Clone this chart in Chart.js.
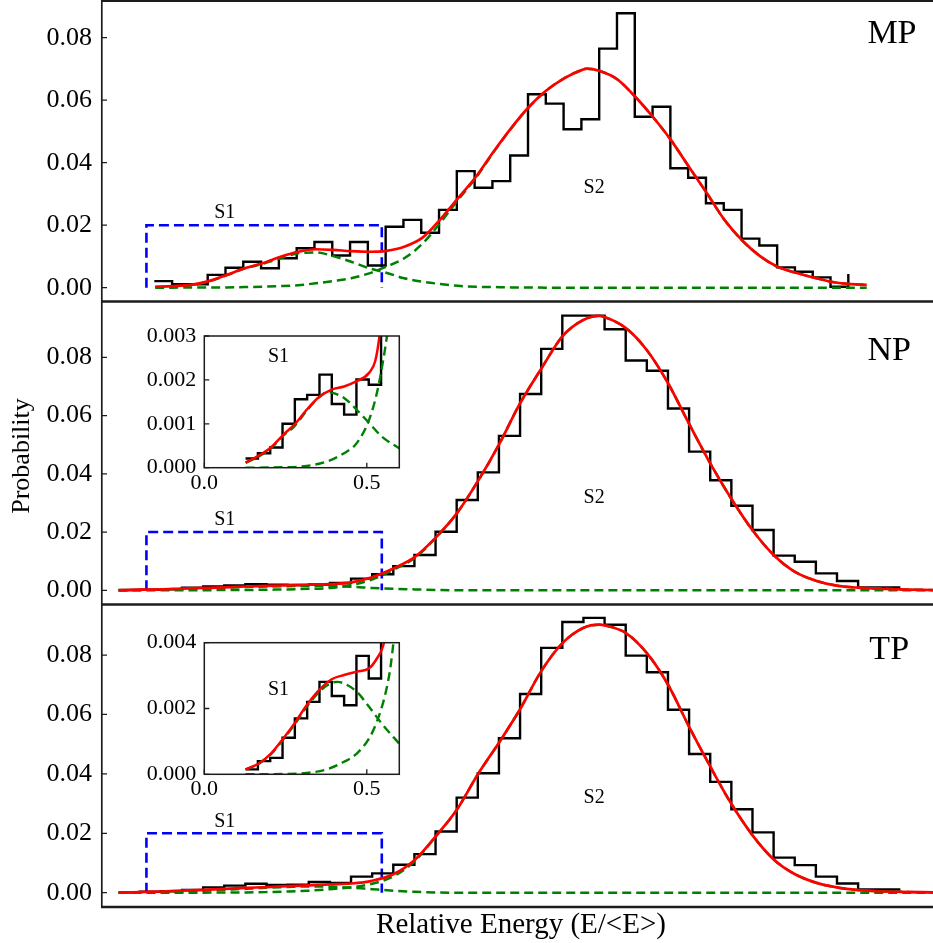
<!DOCTYPE html>
<html>
<head>
<meta charset="utf-8">
<title>Relative energy distributions</title>
<script src="https://cdn.jsdelivr.net/npm/chart.js@4.4.1/dist/chart.umd.min.js"></script>
<style>
  body { margin: 0; background: #fff; }
  #fig { position: relative; width: 933px; height: 943px; overflow: hidden; }
  #fig canvas { position: absolute; left: 0; top: 0; }
</style>
</head>
<body>
<div id="fig">
  <canvas id="mp" width="933" height="943"></canvas>
  <canvas id="np" width="933" height="943"></canvas>
  <canvas id="tp" width="933" height="943"></canvas>
  <canvas id="npInset" width="933" height="943"></canvas>
  <canvas id="tpInset" width="933" height="943"></canvas>
</div>
<script>
// ---------- data ----------
const yTicks = [0, 0.02, 0.04, 0.06, 0.08];
const npInsetYTicks = [0, 0.001, 0.002, 0.003];
const tpInsetYTicks = [0, 0.002, 0.004];
const insetXTicks = [0, 0.5];

// S1 window drawn as the blue dashed box
const s1Box = [0.123, 0.553];
const s1BoxTop = 0.02;

// MP histogram (step), bins start / width, heights
const mpBinStart = 0.1374, mpBinWidth = 0.03251;
const mpHist = [0.0021, 0.0011, 0.0011, 0.0041, 0.0064, 0.0083, 0.0062, 0.0094, 0.0126, 0.0146,
  0.0103, 0.0146, 0.0071, 0.0195, 0.0217, 0.0176, 0.0249, 0.0373, 0.0320, 0.0341,
  0.0423, 0.0619, 0.0589, 0.0507, 0.0539, 0.0765, 0.0878, 0.0547, 0.0579, 0.0382,
  0.0352, 0.0270, 0.0249, 0.0157, 0.0135, 0.0065, 0.0051, 0.0033, 0.0003];
const mpHistLast = 0.0044;

// MP fitted curves
const mpCurveX = [0.139, 0.171, 0.204, 0.237, 0.270, 0.302, 0.335, 0.368, 0.400, 0.433,
  0.464, 0.497, 0.530, 0.561, 0.594, 0.628, 0.659, 0.692, 0.725, 0.757,
  0.789, 0.822, 0.853, 0.886, 0.919, 0.928, 0.950, 0.983, 1.016, 1.048,
  1.081, 1.114, 1.147, 1.179, 1.212, 1.244, 1.276, 1.309, 1.341, 1.374, 1.405, 1.439];
const mpFit = [0.0003, 0.0005, 0.0009, 0.0021, 0.0041, 0.0062, 0.0078, 0.0099, 0.0115, 0.0123,
  0.0121, 0.0117, 0.0115, 0.0118, 0.0131, 0.0161, 0.0217, 0.0286, 0.0355, 0.0435,
  0.0510, 0.0579, 0.0630, 0.0670, 0.0697, 0.0701, 0.0694, 0.0667, 0.0611, 0.0547,
  0.0473, 0.0387, 0.0302, 0.0217, 0.0150, 0.0101, 0.0067, 0.0048, 0.0033, 0.0019, 0.0012, 0.0009];
const mpS1 = [0.0002, 0.0004, 0.0008, 0.0020, 0.0040, 0.0061, 0.0076, 0.0094, 0.0110, 0.0113,
  0.0101, 0.0083, 0.0062, 0.0048, 0.0030, 0.0019, 0.0012, 0.0006, 0.0003, 0.0002,
  0.0001, 0.0001, 0, 0, 0, 0, 0, 0, 0, 0,
  0, 0, 0, 0, 0, 0, 0, 0, 0, 0, 0, 0];
const mpS2 = [0, 0, 0.0001, 0.0001, 0.0001, 0.0002, 0.0003, 0.0005, 0.0008, 0.0014,
  0.0021, 0.0030, 0.0046, 0.0067, 0.0094, 0.0142, 0.0206, 0.0280, 0.0352, 0.0433,
  0.0509, 0.0578, 0.0630, 0.0670, 0.0697, 0.0701, 0.0694, 0.0667, 0.0611, 0.0547,
  0.0473, 0.0387, 0.0302, 0.0217, 0.0150, 0.0101, 0.0067, 0.0048, 0.0033, 0.0019, 0.0012, 0.0009];

// NP / TP histograms share the binning
const npTpBinStart = 0.0722, npTpBinWidth = 0.0386;
const npHist = [0.0001, 0.0002, 0.0003, 0.0009, 0.0013, 0.0017, 0.0021, 0.0019, 0.0018, 0.0020,
  0.0025, 0.0040, 0.0055, 0.0083, 0.0121, 0.0201, 0.0310, 0.0405, 0.0530, 0.0674,
  0.0829, 0.0943, 0.0943, 0.0896, 0.0789, 0.0754, 0.0624, 0.0476, 0.0378, 0.0290,
  0.0207, 0.0119, 0.0098, 0.0058, 0.0032, 0.0010, 0.0010];
const tpHist = [0.0001, 0.0003, 0.0005, 0.0009, 0.0018, 0.0024, 0.0030, 0.0026, 0.0027, 0.0036,
  0.0033, 0.0054, 0.0065, 0.0094, 0.0130, 0.0206, 0.0320, 0.0402, 0.0520, 0.0669,
  0.0824, 0.0911, 0.0925, 0.0902, 0.0798, 0.0742, 0.0616, 0.0467, 0.0373, 0.0281,
  0.0203, 0.0118, 0.0093, 0.0054, 0.0031, 0.0011, 0.0011];

const npTpCurveX = [0.072, 0.111, 0.149, 0.188, 0.227, 0.265, 0.304, 0.342, 0.381, 0.420,
  0.458, 0.497, 0.535, 0.574, 0.613, 0.651, 0.690, 0.728, 0.767, 0.805,
  0.844, 0.883, 0.921, 0.950, 0.960, 0.999, 1.037, 1.076, 1.114, 1.153,
  1.191, 1.230, 1.269, 1.307, 1.346, 1.384, 1.423, 1.462, 1.500, 1.560];
const npFit = [0.0000, 0.0002, 0.0003, 0.0006, 0.0008, 0.0010, 0.0013, 0.0015, 0.0017, 0.0019,
  0.0021, 0.0027, 0.0045, 0.0075, 0.0114, 0.0180, 0.0264, 0.0373, 0.0500, 0.0640,
  0.0760, 0.0872, 0.0928, 0.0942, 0.0938, 0.0900, 0.0825, 0.0711, 0.0573, 0.0436,
  0.0316, 0.0207, 0.0121, 0.0064, 0.0033, 0.0016, 0.0009, 0.0006, 0.0003, 0.0001];
const npS1 = [0, 0.0001, 0.0002, 0.0004, 0.0006, 0.0009, 0.0011, 0.0013, 0.0014, 0.0015,
  0.0014, 0.0012, 0.0008, 0.0005, 0.0003, 0.0001, 0, 0, 0, 0,
  0, 0, 0, 0, 0, 0, 0, 0, 0, 0,
  0, 0, 0, 0, 0, 0, 0, 0, 0, 0];
const npS2 = [0, 0, 0, 0, 0, 0.0001, 0.0001, 0.0002, 0.0003, 0.0005,
  0.0008, 0.0018, 0.0037, 0.0070, 0.0111, 0.0179, 0.0264, 0.0373, 0.0500, 0.0640,
  0.0760, 0.0872, 0.0928, 0.0942, 0.0938, 0.0900, 0.0825, 0.0711, 0.0573, 0.0436,
  0.0316, 0.0207, 0.0121, 0.0064, 0.0033, 0.0016, 0.0009, 0.0006, 0.0003, 0.0001];
const tpFit = [0.0000, 0.0002, 0.0004, 0.0007, 0.0010, 0.0013, 0.0016, 0.0019, 0.0022, 0.0025,
  0.0028, 0.0031, 0.0040, 0.0062, 0.0110, 0.0189, 0.0279, 0.0397, 0.0505, 0.0616,
  0.0745, 0.0840, 0.0891, 0.0902, 0.0900, 0.0874, 0.0807, 0.0700, 0.0560, 0.0425,
  0.0301, 0.0194, 0.0112, 0.0063, 0.0034, 0.0018, 0.0009, 0.0005, 0.0003, 0.0001];
const tpS1 = [0, 0.0001, 0.0002, 0.0004, 0.0007, 0.0010, 0.0013, 0.0017, 0.0019, 0.0021,
  0.0020, 0.0017, 0.0012, 0.0007, 0.0003, 0.0001, 0, 0, 0, 0,
  0, 0, 0, 0, 0, 0, 0, 0, 0, 0,
  0, 0, 0, 0, 0, 0, 0, 0, 0, 0];
const tpS2 = [0, 0, 0, 0, 0, 0.0001, 0.0001, 0.0002, 0.0004, 0.0007,
  0.0012, 0.0018, 0.0030, 0.0055, 0.0106, 0.0188, 0.0279, 0.0397, 0.0505, 0.0616,
  0.0745, 0.0840, 0.0891, 0.0902, 0.0900, 0.0874, 0.0807, 0.0700, 0.0560, 0.0425,
  0.0301, 0.0194, 0.0112, 0.0063, 0.0034, 0.0018, 0.0009, 0.0005, 0.0003, 0.0001];

// insets (S1 zoom)
const insetBinStart = 0.127, insetBinWidth = 0.0379;
const npInsetHist = [0.00021, 0.00033, 0.00046, 0.00100, 0.00156, 0.00166, 0.00212, 0.00145, 0.00121, 0.00201, 0.00189, 0.00550];
const tpInsetHist = [0.00015, 0.00040, 0.00050, 0.00111, 0.00170, 0.00220, 0.00281, 0.00238, 0.00210, 0.00360, 0.00291, 0.00650];

const npInsetFitX = [0.127, 0.166, 0.205, 0.243, 0.277, 0.315, 0.353, 0.392, 0.430, 0.469, 0.507, 0.526, 0.539, 0.550];
const npInsetFit = [0.00012, 0.00027, 0.00046, 0.00075, 0.00098, 0.00132, 0.00161, 0.00178, 0.00185, 0.00197, 0.00216, 0.00243, 0.00300, 0.00380];
const npInsetS1X = [0.127, 0.166, 0.205, 0.243, 0.277, 0.315, 0.353, 0.377, 0.392, 0.430, 0.469, 0.507, 0.546, 0.600];
const npInsetS1 = [0.00011, 0.00025, 0.00044, 0.00073, 0.00094, 0.00130, 0.00160, 0.00172, 0.00171, 0.00159, 0.00132, 0.00102, 0.00071, 0.00044];
const npInsetS2X = [0.127, 0.243, 0.315, 0.377, 0.430, 0.469, 0.507, 0.531, 0.551, 0.562, 0.572];
const npInsetS2 = [0.00000, 0.00001, 0.00004, 0.00014, 0.00033, 0.00056, 0.00109, 0.00170, 0.00247, 0.00300, 0.00360];

const tpInsetFitX = [0.127, 0.166, 0.205, 0.243, 0.277, 0.315, 0.353, 0.392, 0.430, 0.469, 0.507, 0.531, 0.551, 0.565];
const tpInsetFit = [0.00015, 0.00032, 0.00063, 0.00109, 0.00154, 0.00210, 0.00256, 0.00289, 0.00302, 0.00312, 0.00322, 0.00352, 0.00393, 0.00470];
const tpInsetS1X = [0.127, 0.166, 0.205, 0.243, 0.277, 0.315, 0.353, 0.392, 0.410, 0.430, 0.469, 0.507, 0.546, 0.600];
const tpInsetS1 = [0.00015, 0.00031, 0.00061, 0.00106, 0.00150, 0.00205, 0.00250, 0.00278, 0.00281, 0.00276, 0.00251, 0.00205, 0.00154, 0.00093];
const tpInsetS2X = [0.127, 0.243, 0.315, 0.377, 0.430, 0.469, 0.507, 0.531, 0.556, 0.572, 0.582, 0.592];
const tpInsetS2 = [0.00000, 0.00001, 0.00004, 0.00015, 0.00038, 0.00063, 0.00109, 0.00160, 0.00240, 0.00320, 0.00400, 0.00480];

// ---------- layout ----------
const mainX = [0.04, 1.56];
const mpBox = { top: 0.5, bottom: 301.5, yMin: -0.00442, yMax: 0.0919 };
const npBox = { top: 302.5, bottom: 604.5, yMin: -0.00488, yMax: 0.09881 };
const tpBox = { top: 605.5, bottom: 907, yMin: -0.00481, yMax: 0.09667 };
const npInsetBox = { left: 204.3, right: 399.3, top: 336, bottom: 467.7 };
const tpInsetBox = { left: 204.3, right: 399.3, top: 642.7, bottom: 774.3 };
const insetXAxisHeight = 30;

Chart.defaults.font.family = '"Liberation Serif", "Times New Roman", serif';
Chart.defaults.color = '#000';

const RED = '#ff0000', GREEN = '#008000', BLUE = '#0000ff', INK = '#1c1c1c';

const pts = (xs, ys) => xs.map((x, i) => ({ x: x, y: ys[i] }));

function steps(start, width, heights, last) {
  const out = heights.map((h, i) => ({ x: start + i * width, y: h }));
  out.push({ x: start + heights.length * width, y: last !== undefined ? last : heights[heights.length - 1] });
  return out;
}

function curve(data, color, dashed, width, order) {
  return {
    data: data, borderColor: color, borderWidth: width, borderDash: dashed ? [9, 5] : [],
    cubicInterpolationMode: 'monotone', pointRadius: 0, fill: false, order: order
  };
}

function histogram(data, order) {
  return { data: data, borderColor: '#000', borderWidth: 2.4, stepped: true, pointRadius: 0,
    fill: false, borderJoinStyle: 'miter', order: order };
}

// frame, inward ticks and separators
const framePlugin = {
  id: 'frame',
  beforeDraw(chart, args, opts) {
    if (!opts.inset) return;
    const a = chart.chartArea, ctx = chart.ctx;
    ctx.save();
    ctx.fillStyle = '#fff';
    ctx.fillRect(a.left, a.top, a.right - a.left, a.bottom - a.top);
    ctx.restore();
  },
  afterDraw(chart, args, opts) {
    const a = chart.chartArea, ctx = chart.ctx, sx = chart.scales.x, sy = chart.scales.y;
    ctx.save();
    ctx.strokeStyle = INK;
    ctx.lineWidth = 1.3;
    ctx.beginPath();
    sy.ticks.forEach(t => {
      const py = sy.getPixelForValue(t.value);
      ctx.moveTo(a.left, py);
      ctx.lineTo(a.left + opts.tick, py);
    });
    if (opts.inset) {
      sx.ticks.forEach(t => {
        const px = sx.getPixelForValue(t.value);
        ctx.moveTo(px, a.bottom);
        ctx.lineTo(px, a.bottom - opts.tick);
      });
    }
    ctx.stroke();
    if (opts.inset) {
      ctx.lineWidth = 1.5;
      ctx.strokeRect(a.left, a.top, a.right - a.left, a.bottom - a.top);
    } else {
      ctx.lineWidth = 1.7;
      ctx.beginPath();
      ctx.moveTo(a.left + 0.8, opts.top ? 0 : a.top - 2);
      ctx.lineTo(a.left + 0.8, a.bottom);
      ctx.stroke();
      ctx.lineWidth = 2.3;
      ctx.beginPath();
      ctx.moveTo(a.left, a.bottom);
      ctx.lineTo(chart.width, a.bottom);
      if (opts.top) {
        ctx.moveTo(a.left, 0.75);
        ctx.lineTo(chart.width, 0.75);
      }
      ctx.stroke();
    }
    ctx.restore();
  }
};

// annotation text (data positions) and axis titles (pixel positions)
const textPlugin = {
  id: 'texts',
  afterDraw(chart, args, opts) {
    const ctx = chart.ctx, sx = chart.scales.x, sy = chart.scales.y;
    ctx.save();
    ctx.fillStyle = '#000';
    ctx.textAlign = 'center';
    ctx.textBaseline = 'middle';
    (opts.items || []).forEach(it => {
      ctx.font = it.size + 'px "Liberation Serif", serif';
      const px = it.pixel ? it.x : sx.getPixelForValue(it.x);
      const py = it.pixel ? it.y : sy.getPixelForValue(it.y);
      ctx.save();
      ctx.translate(px, py);
      if (it.rotate) ctx.rotate(-Math.PI / 2);
      ctx.fillText(it.text, 0, 0);
      ctx.restore();
    });
    ctx.restore();
  }
};

function mainPanel(id, box, sets, texts, top) {
  return new Chart(document.getElementById(id), {
    type: 'line',
    data: { datasets: sets },
    options: {
      responsive: false, animation: false, devicePixelRatio: 1, events: [],
      layout: { padding: { left: 0, right: 0, top: box.top, bottom: 943 - box.bottom } },
      scales: {
        x: { type: 'linear', display: false, min: mainX[0], max: mainX[1] },
        y: {
          min: box.yMin, max: box.yMax,
          afterBuildTicks: s => { s.ticks = yTicks.map(v => ({ value: v })); },
          afterFit: s => { s.width = 101; s.paddingTop = 0; s.paddingBottom = 0; },
          grid: { display: false, drawTicks: false },
          border: { display: false },
          ticks: { font: { size: 26 }, padding: 9, autoSkip: false, callback: v => v.toFixed(2) }
        }
      },
      plugins: {
        legend: { display: false }, tooltip: { enabled: false },
        frame: { inset: false, top: top, tick: 6 },
        texts: { items: texts }
      }
    },
    plugins: [framePlugin, textPlugin]
  });
}

function insetPanel(id, box, sets, ticks, texts) {
  return new Chart(document.getElementById(id), {
    type: 'line',
    data: { datasets: sets },
    options: {
      responsive: false, animation: false, devicePixelRatio: 1, events: [],
      layout: { padding: { left: 0, right: 933 - box.right, top: box.top, bottom: 943 - box.bottom - insetXAxisHeight } },
      scales: {
        x: {
          type: 'linear', min: 0, max: 0.6,
          afterBuildTicks: s => { s.ticks = insetXTicks.map(v => ({ value: v })); },
          afterFit: s => { s.height = insetXAxisHeight; s.paddingLeft = 0; s.paddingRight = 0; },
          grid: { display: false, drawTicks: false },
          border: { display: false },
          ticks: { font: { size: 22 }, padding: 2, maxRotation: 0, autoSkip: false, callback: v => v.toFixed(1) }
        },
        y: {
          min: 0, max: ticks[ticks.length - 1],
          afterBuildTicks: s => { s.ticks = ticks.map(v => ({ value: v })); },
          afterFit: s => { s.width = box.left; s.paddingTop = 0; s.paddingBottom = 0; },
          grid: { display: false, drawTicks: false },
          border: { display: false },
          ticks: { font: { size: 22 }, padding: 8, autoSkip: false, callback: v => v.toFixed(3) }
        }
      },
      plugins: {
        legend: { display: false }, tooltip: { enabled: false },
        frame: { inset: true, tick: 5 },
        texts: { items: texts }
      }
    },
    plugins: [framePlugin, textPlugin]
  });
}

function s1Window(order) {
  return {
    data: [{ x: s1Box[0], y: 0 }, { x: s1Box[0], y: s1BoxTop }, { x: s1Box[1], y: s1BoxTop }, { x: s1Box[1], y: 0 }],
    borderColor: BLUE, borderWidth: 2.6, borderDash: [10, 5], pointRadius: 0, fill: false, tension: 0, order: order
  };
}

mainPanel('mp', mpBox, [
  curve(pts(mpCurveX, mpFit), RED, false, 2.7, 0),
  curve(pts(mpCurveX, mpS1), GREEN, true, 2.5, 1),
  curve(pts(mpCurveX, mpS2), GREEN, true, 2.5, 2),
  histogram(steps(mpBinStart, mpBinWidth, mpHist, mpHistLast), 3),
  s1Window(4)
], [
  { text: 'MP', x: 1.485, y: 0.0813, size: 34 },
  { text: 'S1', x: 0.266, y: 0.0239, size: 20 },
  { text: 'S2', x: 0.941, y: 0.0319, size: 20 }
], true);

mainPanel('np', npBox, [
  curve(pts(npTpCurveX, npFit), RED, false, 2.7, 0),
  curve(pts(npTpCurveX, npS1), GREEN, true, 2.5, 1),
  curve(pts(npTpCurveX, npS2), GREEN, true, 2.5, 2),
  histogram(steps(npTpBinStart, npTpBinWidth, npHist), 3),
  s1Window(4)
], [
  { text: 'NP', x: 1.480, y: 0.0820, size: 34 },
  { text: 'S1', x: 0.266, y: 0.0241, size: 20 },
  { text: 'S2', x: 0.941, y: 0.0317, size: 20 },
  { text: 'Probability', x: 22, y: 456, size: 26, pixel: true, rotate: true }
], false);

mainPanel('tp', tpBox, [
  curve(pts(npTpCurveX, tpFit), RED, false, 2.7, 0),
  curve(pts(npTpCurveX, tpS1), GREEN, true, 2.5, 1),
  curve(pts(npTpCurveX, tpS2), GREEN, true, 2.5, 2),
  histogram(steps(npTpBinStart, npTpBinWidth, tpHist), 3),
  s1Window(4)
], [
  { text: 'TP', x: 1.480, y: 0.0817, size: 34 },
  { text: 'S1', x: 0.266, y: 0.0240, size: 20 },
  { text: 'S2', x: 0.941, y: 0.0319, size: 20 },
  { text: 'Relative Energy (E/<E>)', x: 521, y: 925, size: 29, pixel: true }
], false);

insetPanel('npInset', npInsetBox, [
  curve(pts(npInsetFitX, npInsetFit), RED, false, 2.5, 0),
  curve(pts(npInsetS1X, npInsetS1), GREEN, true, 2.4, 1),
  curve(pts(npInsetS2X, npInsetS2), GREEN, true, 2.4, 2),
  histogram(steps(insetBinStart, insetBinWidth, npInsetHist), 3)
], npInsetYTicks, [
  { text: 'S1', x: 0.2285, y: 0.00253, size: 20 }
]);

insetPanel('tpInset', tpInsetBox, [
  curve(pts(tpInsetFitX, tpInsetFit), RED, false, 2.5, 0),
  curve(pts(tpInsetS1X, tpInsetS1), GREEN, true, 2.4, 1),
  curve(pts(tpInsetS2X, tpInsetS2), GREEN, true, 2.4, 2),
  histogram(steps(insetBinStart, insetBinWidth, tpInsetHist), 3)
], tpInsetYTicks, [
  { text: 'S1', x: 0.2285, y: 0.00256, size: 20 }
]);
</script>
</body>
</html>
